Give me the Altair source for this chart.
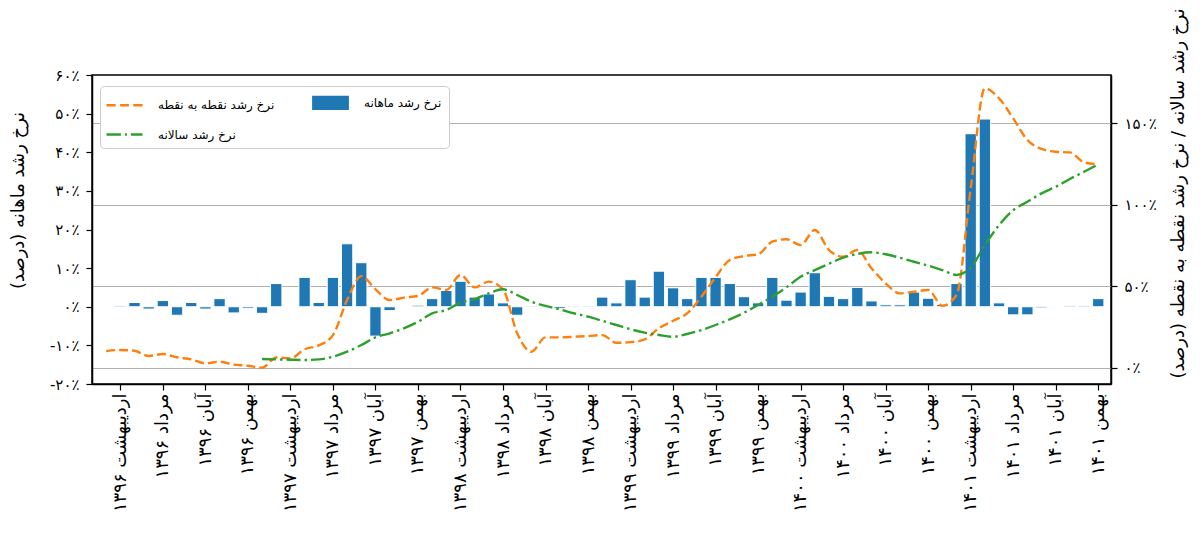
import json
import altair as alt
import pandas as pd

# ---------------- data ----------------
MONTH_NAMES = ["فروردین", "اردیبهشت", "خرداد", "تیر", "مرداد", "شهریور",
               "مهر", "آبان", "آذر", "دی", "بهمن", "اسفند"]
YEARS = ["۱۳۹۶", "۱۳۹۷", "۱۳۹۸", "۱۳۹۹", "۱۴۰۰", "۱۴۰۱"]
MONTHS = [f"{m} {y}" for y in YEARS for m in MONTH_NAMES][:71]   # فروردین ۱۳۹۶ .. بهمن ۱۴۰۱
MONTH_INDEX = list(range(len(MONTHS)))

# monthly growth rate (%), left axis
MONTHLY = [None, 0.3, 1.1, -0.6, 1.6, -2.2, 1.1, -0.6, 2.1, -1.6, -0.4, -1.7,
           6.0, 0.0, 7.6, 1.1, 7.6, 16.3, 11.4, -7.6, -1.0, 0.0, 0.4, 2.1,
           4.2, 6.6, 2.5, 3.3, 1.0, -2.2, 0.2, 0.0, -0.5, 0.2, 0.2, 2.5,
           1.0, 7.0, 2.5, 9.2, 4.9, 2.1, 7.6, 7.6, 6.0, 2.6, 1.0, 7.6,
           1.7, 3.8, 8.8, 2.7, 2.1, 5.0, 1.5, 0.5, 0.5, 3.8, 2.2, 0.6,
           6.0, 44.8, 48.6, 1.0, -2.1, -2.1, -0.3, 0.0, 0.3, 0.3, 2.1]

# point-to-point growth rate (%), right axis
P2P = [10.2, 10.9, 10.4, 7.2, 8.4, 6.4, 5.1, 2.7, 3.7, 1.9, 1.2, 0.0,
       6.3, 5.7, 11.3, 13.7, 20.0, 41.5, 56.2, 48.1, 41.5, 43.0, 44.0, 49.3,
       47.7, 56.9, 49.3, 52.8, 48.1, 21.1, 9.8, 18.6, 18.6, 19.0, 19.4, 20.0,
       15.3, 15.7, 17.4, 24.2, 28.8, 33.4, 43.6, 55.5, 66.1, 68.5, 69.6, 77.3,
       78.8, 75.3, 84.5, 72.2, 68.1, 72.2, 61.0, 51.8, 45.6, 46.6, 47.7, 38.0,
       44.6, 110.0, 171.4, 165.3, 153.0, 139.7, 134.2, 132.5, 132.1, 126.0, 124.8]

# annual growth rate (%), right axis
ANNUAL = [None] * 11 + [
    5.3, 5.1, 4.9, 4.7, 5.1, 6.7, 9.8, 13.9, 18.6, 21.1, 24.2, 28.2,
    33.4, 35.4, 39.9, 42.1, 45.6, 48.1, 44.6, 40.5, 37.9, 35.8, 33.4, 31.3,
    28.8, 26.2, 23.6, 21.5, 20.1, 19.0, 20.7, 23.1, 26.2, 29.7, 33.7, 38.5,
    43.6, 49.3, 55.8, 59.9, 63.8, 67.5, 69.8, 70.8, 69.6, 67.5, 65.0, 62.6,
    59.9, 56.9, 61.3, 75.3, 87.5, 96.7, 101.8, 107.0, 111.0, 115.8, 120.2, 124.8]

TICK_POS = MONTH_INDEX[1::3]
TICK_LABELS = [MONTHS[i] for i in TICK_POS]

LEFT_TICKS = [-20, -10, 0, 10, 20, 30, 40, 50, 60]
LEFT_LABELS = ["-۲۰٪", "-۱۰٪", "۰٪", "۱۰٪", "۲۰٪", "۳۰٪", "۴۰٪", "۵۰٪", "۶۰٪"]
RIGHT_TICKS = [0, 50, 100, 150]
RIGHT_LABELS = ["۰٪", "۵۰٪", "۱۰۰٪", "۱۵۰٪"]

NAME_P2P = "نرخ رشد نقطه به نقطه"
NAME_MONTHLY = "نرخ رشد ماهانه"
NAME_ANNUAL = "نرخ رشد سالانه"
LEGEND_ORDER = [NAME_P2P, NAME_ANNUAL, NAME_MONTHLY]
LEFT_TITLE = "نرخ رشد ماهانه (درصد)\u200f"
RIGHT_TITLE = "نرخ رشد سالانه / نرخ رشد نقطه به نقطه (درصد)\u200f"

# ---------------- style ----------------
FONT = "DejaVu Sans"
BAR_COLOR = "#1f77b4"
ORANGE = "#ff7f0e"
GREEN = "#2ca02c"
LEGEND_COLORS = [ORANGE, GREEN, BAR_COLOR]
LEGEND_PATHS = [
    "M-2.25,0H-1.1M-0.55,0H0.55M1.1,0H2.25",
    "M-2.25,0H-0.45M0.05,0H0.3M0.8,0H2.25",
    "M-2.15,-0.75H2.15V0.75H-2.15Z",
]

df = pd.DataFrame({"i": MONTH_INDEX, "month": MONTHS, "monthly": MONTHLY})
lines_df = pd.DataFrame({
    "i": MONTH_INDEX * 2,
    "series": [NAME_P2P] * len(P2P) + [NAME_ANNUAL] * len(ANNUAL),
    "value": P2P + ANNUAL,
}).dropna()
legend_df = pd.DataFrame({"series": LEGEND_ORDER})

x_scale = alt.Scale(domain=[-1, 70.9], nice=False, zero=False)


def lookup_expr(labels, values):
    return "%s[indexof(%s, datum.value)]" % (
        json.dumps(labels, ensure_ascii=False), json.dumps(values))


x_axis = alt.Axis(values=TICK_POS, labelExpr=lookup_expr(TICK_LABELS, TICK_POS),
                  labelAngle=270, labelFontSize=18, labelPadding=3, tickSize=6,
                  labelOverlap=False, labelFlush=False, labelBound=False,
                  grid=False, title=None)

left_axis = alt.Axis(values=LEFT_TICKS, labelExpr=lookup_expr(LEFT_LABELS, LEFT_TICKS),
                     grid=False, tickSize=6, labelPadding=7, labelFontSize=15,
                     titleFontSize=18, titleFontWeight="normal", titleAngle=270,
                     titleY=125, titlePadding=22)

right_axis = alt.Axis(orient="right", values=RIGHT_TICKS,
                      labelExpr=lookup_expr(RIGHT_LABELS, RIGHT_TICKS),
                      grid=True, gridColor="#b0b0b0", gridWidth=1.2,
                      tickSize=6, labelPadding=7, labelFontSize=15,
                      titleFontSize=18, titleFontWeight="normal", titleAngle=270,
                      titleBaseline="top", titleY=118, titlePadding=13)

bars = alt.Chart(df).transform_filter("isValid(datum.monthly)").transform_calculate(
    x0="datum.i - 0.4", x1="datum.i + 0.4"
).mark_bar(color=BAR_COLOR, stroke="white", strokeWidth=1).encode(
    x=alt.X("x0:Q", scale=x_scale, axis=x_axis),
    x2="x1:Q",
    y=alt.Y("monthly:Q", scale=alt.Scale(domain=[-20, 60], nice=False, zero=False),
            axis=left_axis, title=LEFT_TITLE),
    y2=alt.datum(0),
)

lines = alt.Chart(lines_df).mark_line(strokeWidth=2.4, interpolate="monotone").encode(
    x=alt.X("i:Q", scale=x_scale, axis=x_axis),
    y=alt.Y("value:Q", scale=alt.Scale(domain=[-10, 179.6], nice=False, zero=False),
            axis=right_axis, title=RIGHT_TITLE),
    color=alt.Color("series:N", scale=alt.Scale(domain=[NAME_P2P, NAME_ANNUAL],
                                                range=[ORANGE, GREEN]), legend=None),
    strokeDash=alt.StrokeDash("series:N", scale=alt.Scale(domain=[NAME_P2P, NAME_ANNUAL],
                                                          range=[[9, 4], [14, 4, 2.5, 4]]),
                              legend=None),
)

legend_def = alt.Legend(title=None, orient="none", legendX=8, legendY=11, columns=2,
                        symbolSize=256, symbolStrokeWidth=2.4, symbolOffset=8,
                        labelFont=FONT, labelFontSize=12, labelColor="black",
                        labelOffset=24, labelLimit=400, columnPadding=33, rowPadding=11,
                        fillColor="white", strokeColor="#cccccc", cornerRadius=4,
                        padding=7)

legend_layer = alt.Chart(legend_df).transform_filter("false").mark_point(
    filled=True, opacity=1
).encode(
    fill=alt.Fill("series:N", scale=alt.Scale(domain=LEGEND_ORDER, range=LEGEND_COLORS),
                  legend=legend_def),
    stroke=alt.Stroke("series:N", scale=alt.Scale(domain=LEGEND_ORDER, range=LEGEND_COLORS),
                      legend=legend_def),
    shape=alt.Shape("series:N", scale=alt.Scale(domain=LEGEND_ORDER, range=LEGEND_PATHS),
                    legend=legend_def),
)

chart = alt.layer(bars, lines, legend_layer).resolve_scale(
    y="independent"
).properties(
    width=1019, height=309,
    autosize=alt.AutoSizeParams(type="none"),
    padding={"left": 84, "top": 67, "right": 84, "bottom": 155},
).configure_view(
    stroke="black", strokeWidth=1.5
).configure_axis(
    labelFont=FONT, titleFont=FONT, labelColor="black", titleColor="black",
    domainColor="black", domainWidth=1.5, tickColor="black", tickWidth=1.2,
)

chart.save("out.html", embed_options={"renderer": "svg", "actions": False})
